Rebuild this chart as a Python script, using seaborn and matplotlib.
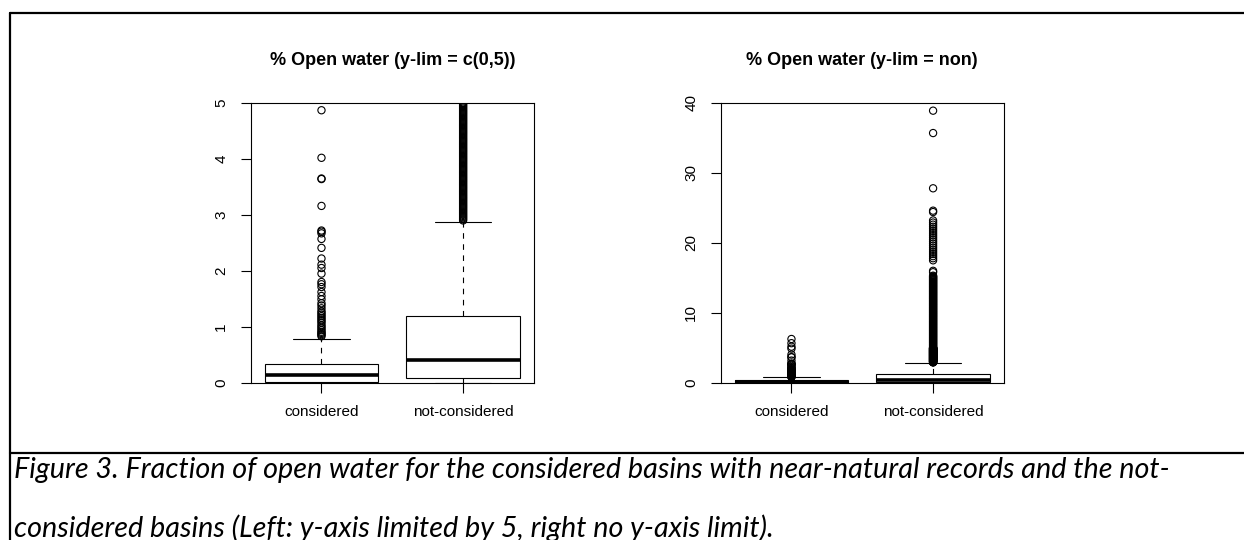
import matplotlib
matplotlib.use("Agg")
import matplotlib.pyplot as plt
from matplotlib.lines import Line2D
import seaborn as sns
import pandas as pd

# ---------------------------------------------------------------- data
groups = ["considered", "not-considered"]

# bulk of each group: lower whisker, Q1, median, Q3, upper whisker
considered_summary = [0.0, 0.012, 0.13, 0.334, 0.78]
not_considered_summary = [0.0, 0.078, 0.41, 1.20, 2.87]

# individual outlying basins
considered_outliers = [
    6.25, 5.65, 5.15, 4.87, 4.02, 3.65, 3.64, 3.16, 2.72, 2.70,
    2.67, 2.57, 2.41, 2.22, 2.11, 2.05, 1.95, 1.80, 1.76, 1.71,
    1.62, 1.55, 1.49, 1.42, 1.38, 1.33, 1.28, 1.25, 1.22, 1.19,
    1.16, 1.13, 1.10, 1.07, 1.03, 1.00, 0.97, 0.94, 0.91, 0.89,
    0.87, 0.85, 0.83,
]

not_considered_outliers_high = [
    38.9, 35.7, 27.8, 24.6, 24.4, 23.2, 22.9, 22.6, 22.3, 22.0,
    21.7, 21.4, 21.1, 20.8, 20.5, 20.2, 19.9, 19.6, 19.3, 19.0,
    18.7, 18.4, 18.1, 17.8, 17.5, 16.0, 15.8,
]

not_considered_outliers_mid = [
    15.3, 15.2, 15.1, 15.0, 14.9, 14.8, 14.7, 14.6, 14.5, 14.4,
    14.3, 14.2, 14.1, 14.0, 13.9, 13.8, 13.7, 13.6, 13.5, 13.4,
    13.3, 13.2, 13.1, 13.0, 12.9, 12.8, 12.7, 12.6, 12.5, 12.4,
    12.3, 12.2, 12.1, 12.0, 11.9, 11.8, 11.7, 11.6, 11.5, 11.4,
    11.3, 11.2, 11.1, 11.0, 10.9, 10.8, 10.7, 10.6, 10.5, 10.4,
    10.3, 10.2, 10.1, 10.0, 9.9, 9.8, 9.7, 9.6, 9.5, 9.4,
    9.3, 9.2, 9.1, 9.0, 8.9, 8.8, 8.7, 8.6, 8.5, 8.4,
    8.3, 8.2, 8.1, 8.0, 7.9, 7.8, 7.7, 7.6, 7.5, 7.4,
    7.3, 7.2, 7.1, 7.0, 6.9, 6.8, 6.7, 6.6, 6.5, 6.4,
    6.3, 6.2, 6.1, 6.0, 5.9, 5.8, 5.7, 5.6, 5.5, 5.4,
    5.3, 5.2, 5.1,
]

not_considered_outliers_low = [
    5.00, 4.98, 4.96, 4.94, 4.92, 4.90, 4.88, 4.86, 4.84, 4.82,
    4.80, 4.78, 4.76, 4.74, 4.72, 4.70, 4.68, 4.66, 4.64, 4.62,
    4.60, 4.58, 4.56, 4.54, 4.52, 4.50, 4.48, 4.46, 4.44, 4.42,
    4.40, 4.38, 4.36, 4.34, 4.32, 4.30, 4.28, 4.26, 4.24, 4.22,
    4.20, 4.18, 4.16, 4.14, 4.12, 4.10, 4.08, 4.06, 4.04, 4.02,
    4.00, 3.98, 3.96, 3.94, 3.92, 3.90, 3.88, 3.86, 3.84, 3.82,
    3.80, 3.78, 3.76, 3.74, 3.72, 3.70, 3.68, 3.66, 3.64, 3.62,
    3.60, 3.58, 3.56, 3.54, 3.52, 3.50, 3.48, 3.46, 3.44, 3.42,
    3.40, 3.38, 3.36, 3.34, 3.32, 3.30, 3.28, 3.26, 3.24, 3.22,
    3.20, 3.18, 3.16, 3.14, 3.12, 3.10, 3.08, 3.06, 3.04, 3.02,
    3.00, 2.98, 2.96, 2.94, 2.92, 2.90,
]

panel_titles = ["% Open water (y-lim = c(0,5))", "% Open water (y-lim = non)"]
panel_ylims = [(0, 5), (0, 40)]
panel_yticks = [[0, 1, 2, 3, 4, 5], [0, 10, 20, 30, 40]]

caption_lines = [
    "Figure 3. Fraction of open water for the considered basins with near-natural records and the not-",
    "considered basins (Left: y-axis limited by 5, right no y-axis limit).",
]

# ---------------------------------------------------------------- tables
box_df = pd.DataFrame({
    "group": [groups[0]] * len(considered_summary) + [groups[1]] * len(not_considered_summary),
    "value": considered_summary + not_considered_summary,
})
nc_outliers = not_considered_outliers_high + not_considered_outliers_mid + not_considered_outliers_low
out_df = pd.DataFrame({
    "group": [groups[0]] * len(considered_outliers) + [groups[1]] * len(nc_outliers),
    "value": considered_outliers + nc_outliers,
})

# ---------------------------------------------------------------- style
sns.set_style("white")
plt.rcParams["font.family"] = ["Liberation Sans", "DejaVu Sans"]
plt.rcParams["axes.edgecolor"] = "black"
plt.rcParams["axes.linewidth"] = 0.8
plt.rcParams["text.color"] = "black"
plt.rcParams["axes.labelcolor"] = "black"
plt.rcParams["axes.titlecolor"] = "black"
plt.rcParams["xtick.color"] = "black"
plt.rcParams["ytick.color"] = "black"

fig = plt.figure(figsize=(12.44, 5.40), dpi=100)
fig.patch.set_facecolor("white")

axes_rects = [
    [0.2015, 0.2913, 0.2277, 0.518],
    [0.5793, 0.2913, 0.2277, 0.518],
]

for rect, title, ylim, yticks in zip(axes_rects, panel_titles, panel_ylims, panel_yticks):
    ax = fig.add_axes(rect)
    sns.boxplot(
        data=box_df, x="group", y="value", order=groups, ax=ax,
        width=0.8, color="white", linecolor="black", linewidth=0.8,
        showfliers=False, whis=1.5,
        medianprops=dict(linewidth=2.6, color="black"),
        whiskerprops=dict(linestyle=(0, (5, 5)), color="black"),
        capprops=dict(color="black"),
    )
    n_before = len(ax.collections)
    sns.stripplot(
        data=out_df, x="group", y="value", order=groups, ax=ax,
        jitter=False, size=5.2, color="black", edgecolor="black",
        linewidth=0.8, marker="o",
    )
    for coll in ax.collections[n_before:]:
        coll.set_facecolor("none")
        coll.set_edgecolor("black")

    ax.set_xlim(-0.5, 1.5)
    ax.set_ylim(*ylim)
    ax.set_yticks(yticks)
    ax.set_xlabel("")
    ax.set_ylabel("")
    for side in ["left", "right", "top", "bottom"]:
        ax.spines[side].set_visible(True)
        ax.spines[side].set_color("black")
        ax.spines[side].set_linewidth(0.8)
    ax.tick_params(axis="both", direction="out", length=7.2, width=0.8,
                   labelsize=11, colors="black", labelcolor="black",
                   left=True, bottom=True)
    ax.tick_params(axis="y", labelrotation=90, pad=9)
    ax.tick_params(axis="x", pad=9)
    for lab in ax.get_yticklabels():
        lab.set_va("center")
    ax.set_title(title, fontsize=13, fontweight="bold", pad=27, color="black")

# page frame and caption rule
frame_kw = dict(color="black", linewidth=1.6, transform=fig.transFigure)
fig.add_artist(Line2D([0.0078, 1.0], [1 - 13 / 540, 1 - 13 / 540], **frame_kw))
fig.add_artist(Line2D([0.0078, 0.0078], [0.0, 1 - 13 / 540], **frame_kw))
fig.add_artist(Line2D([0.0078, 1.0], [1 - 453 / 540, 1 - 453 / 540], **frame_kw))

# caption
cap_kw = dict(fontsize=20.7, style="italic", family=["Lato", "DejaVu Sans"], color="black")
fig.text(14 / 1244, 1 - 478 / 540, caption_lines[0], va="baseline", **cap_kw)
fig.text(14 / 1244, 1 - 537 / 540, caption_lines[1], va="baseline", **cap_kw)

fig.savefig("out.png", dpi=100, facecolor="white")
